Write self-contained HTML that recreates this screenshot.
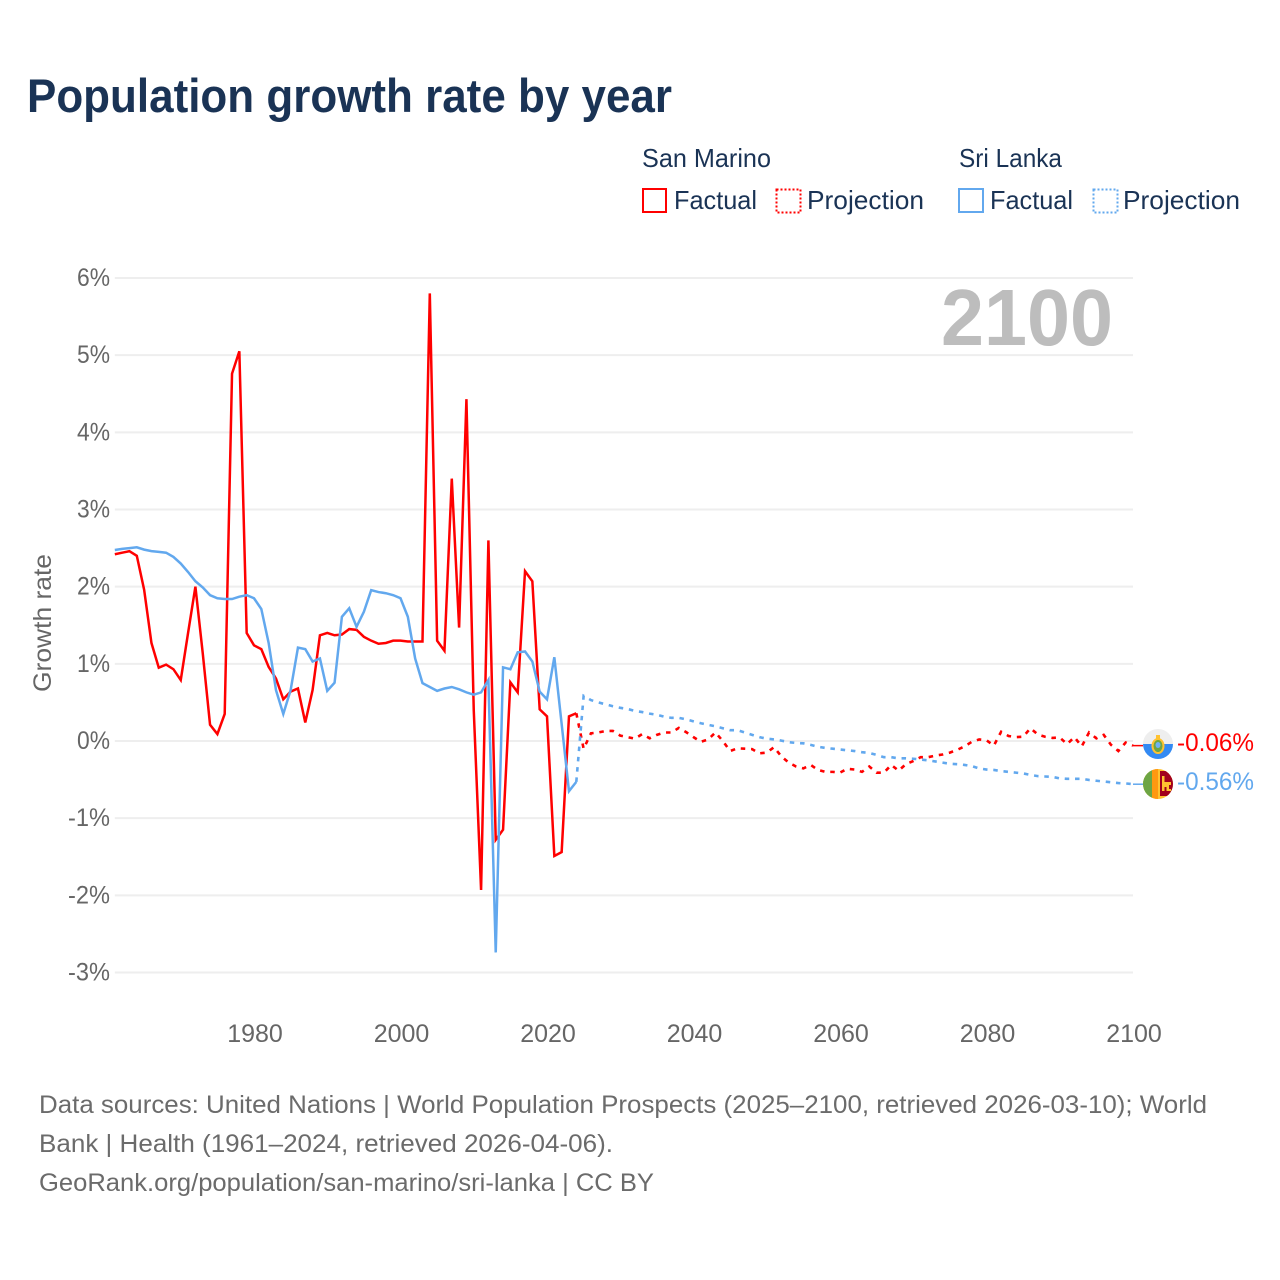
<!DOCTYPE html>
<html lang="en">
<head>
<meta charset="utf-8">
<title>Population growth rate by year</title>
<style>
html,body{margin:0;padding:0;background:#fff;}
svg{display:block;}
text{font-family:"Liberation Sans",sans-serif;}
</style>
</head>
<body>
<svg id="chart" xmlns="http://www.w3.org/2000/svg" width="1280" height="1280" viewBox="0 0 1280 1280">
  <defs>
    <clipPath id="flag-clip-sm"><circle cx="1158" cy="744" r="15"/></clipPath>
    <clipPath id="flag-clip-lk"><circle cx="1158" cy="784" r="15"/></clipPath>
  </defs>
  <rect x="0" y="0" width="1280" height="1280" fill="#fff"/>
  <text x="27" y="112" font-size="47" font-weight="700" fill="#1a3355" textLength="645" lengthAdjust="spacingAndGlyphs">Population growth rate by year</text>

  <g font-size="26" fill="#1a3355">
    <text x="642" y="167" textLength="129" lengthAdjust="spacingAndGlyphs">San Marino</text>
    <text x="959" y="167" textLength="103" lengthAdjust="spacingAndGlyphs">Sri Lanka</text>
    <rect x="643" y="189" width="23" height="23" fill="none" stroke="#ff0000" stroke-width="2"/>
    <text x="674" y="209" textLength="83" lengthAdjust="spacingAndGlyphs">Factual</text>
    <rect x="776.5" y="189.5" width="24" height="23" fill="none" stroke="#ff0000" stroke-width="2" stroke-dasharray="2 2"/>
    <text x="807" y="209" textLength="117" lengthAdjust="spacingAndGlyphs">Projection</text>
    <rect x="959" y="189" width="24" height="23" fill="none" stroke="#62a8ee" stroke-width="2"/>
    <text x="990" y="209" textLength="83" lengthAdjust="spacingAndGlyphs">Factual</text>
    <rect x="1093.5" y="189.5" width="24" height="23" fill="none" stroke="#62a8ee" stroke-width="2" stroke-dasharray="2 2"/>
    <text x="1123" y="209" textLength="117" lengthAdjust="spacingAndGlyphs">Projection</text>
  </g>

  <g id="grid"></g>
  <g id="yticks" font-size="25" fill="#666" text-anchor="end"></g>
  <g id="xticks" font-size="25" fill="#666" text-anchor="middle"></g>
  <text transform="translate(51,623) rotate(-90)" font-size="25" fill="#666" text-anchor="middle" textLength="138" lengthAdjust="spacingAndGlyphs">Growth rate</text>
  <text x="941" y="345" font-size="80" font-weight="700" fill="#bdbdbd" textLength="172" lengthAdjust="spacingAndGlyphs">2100</text>

  <g id="series"></g>

  <g clip-path="url(#flag-clip-sm)">
    <rect x="1143" y="729" width="30" height="15" fill="#eeeeee"/>
    <rect x="1143" y="744" width="30" height="15" fill="#338af3"/>
    <ellipse cx="1158" cy="746" rx="5.5" ry="7" fill="#6da544" stroke="#ffc230" stroke-width="2"/>
    <ellipse cx="1158" cy="745" rx="2.5" ry="3" fill="#6fb1f5"/>
    <rect x="1156" y="735" width="4" height="4" fill="#ffc230"/>
  </g>
  <g clip-path="url(#flag-clip-lk)">
    <rect x="1143" y="769" width="30" height="30" fill="#ffc230"/>
    <rect x="1143" y="769" width="9" height="30" fill="#6da544"/>
    <rect x="1152" y="769" width="6" height="30" fill="#ff9811"/>
    <rect x="1160" y="771" width="13" height="25" fill="#a2001d"/>
    <path d="M1162 776h2.5v6h6.5v3h-2v4h2v2h-4.5v-4h-2v4h-2.500z" fill="#ffc230"/>
  </g>
  <text x="1177" y="751" font-size="25" fill="#ff0000" textLength="77" lengthAdjust="spacingAndGlyphs">-0.06%</text>
  <text x="1177" y="790" font-size="25" fill="#62a8ee" textLength="77" lengthAdjust="spacingAndGlyphs">-0.56%</text>

  <g font-size="25" fill="#6b6b6b">
    <text x="39" y="1113" textLength="1168" lengthAdjust="spacingAndGlyphs">Data sources: United Nations | World Population Prospects (2025–2100, retrieved 2026-03-10); World</text>
    <text x="39" y="1152" textLength="574" lengthAdjust="spacingAndGlyphs">Bank | Health (1961–2024, retrieved 2026-04-06).</text>
    <text x="39" y="1191" textLength="615" lengthAdjust="spacingAndGlyphs">GeoRank.org/population/san-marino/sri-lanka | CC BY</text>
  </g>
</svg>
<script>
const firstFactualYear = 1961;
const firstProjectionYear = 2025;
const yTickValues = [6, 5, 4, 3, 2, 1, 0, -1, -2, -3];
const yTickLabels = ["6%", "5%", "4%", "3%", "2%", "1%", "0%", "-1%", "-2%", "-3%"];
const xTickValues = [1980, 2000, 2020, 2040, 2060, 2080, 2100];
const xTickLabels = ["1980", "2000", "2020", "2040", "2060", "2080", "2100"];

const sanMarinoFactual = [
  2.42, 2.44, 2.46, 2.40, 1.96, 1.27, 0.95, 0.99, 0.93, 0.79,
  1.40, 2.00, 1.14, 0.21, 0.09, 0.35, 4.76, 5.05, 1.40, 1.24,
  1.19, 0.96, 0.81, 0.54, 0.64, 0.68, 0.24, 0.66, 1.37, 1.40,
  1.37, 1.38, 1.45, 1.44, 1.35, 1.30, 1.26, 1.27, 1.30, 1.30,
  1.29, 1.29, 1.29, 5.80, 1.30, 1.17, 3.40, 1.47, 4.43, 0.40,
  -1.93, 2.60, -1.28, -1.15, 0.76, 0.63, 2.20, 2.07, 0.41, 0.32,
  -1.49, -1.44, 0.32, 0.36
];
const sriLankaFactual = [
  2.475, 2.49, 2.50, 2.51, 2.48, 2.46, 2.45, 2.44, 2.385, 2.30,
  2.19, 2.07, 1.99, 1.89, 1.85, 1.84, 1.84, 1.87, 1.89, 1.85,
  1.71, 1.27, 0.66, 0.35, 0.66, 1.21, 1.19, 1.03, 1.07, 0.65,
  0.755, 1.61, 1.72, 1.48, 1.675, 1.955, 1.93, 1.915, 1.89, 1.85,
  1.61, 1.07, 0.75, 0.70, 0.65, 0.68, 0.70, 0.67, 0.63, 0.60,
  0.63, 0.79, -2.74, 0.955, 0.93, 1.15, 1.16, 1.03, 0.64, 0.54,
  1.085, 0.22, -0.65, -0.53
];
const sanMarinoProjection = [
  -0.10, 0.10, 0.11, 0.13, 0.13, 0.07, 0.05, 0.03, 0.09, 0.035,
  0.08, 0.11, 0.11, 0.17, 0.115, 0.05, -0.01, 0.02, 0.11, 0.00,
  -0.13, -0.095, -0.10, -0.105, -0.16, -0.15, -0.08, -0.20, -0.28, -0.33,
  -0.355, -0.31, -0.375, -0.40, -0.40, -0.41, -0.36, -0.37, -0.40, -0.33,
  -0.41, -0.41, -0.31, -0.385, -0.30, -0.26, -0.21, -0.21, -0.19, -0.175,
  -0.15, -0.115, -0.07, -0.01, 0.02, 0.01, -0.06, 0.12, 0.065, 0.05,
  0.055, 0.165, 0.085, 0.055, 0.04, 0.045, -0.04, 0.05, -0.07, 0.11,
  0.035, 0.08, -0.05, -0.13, -0.02, -0.06
];
const sriLankaProjection = [
  0.585, 0.53, 0.50, 0.475, 0.45, 0.43, 0.415, 0.39, 0.375, 0.355,
  0.34, 0.315, 0.30, 0.30, 0.28, 0.255, 0.23, 0.21, 0.19, 0.165,
  0.14, 0.14, 0.11, 0.08, 0.05, 0.03, 0.02, 0.005, -0.015, -0.025,
  -0.03, -0.05, -0.075, -0.09, -0.10, -0.11, -0.12, -0.13, -0.145, -0.155,
  -0.18, -0.21, -0.21, -0.225, -0.225, -0.23, -0.24, -0.25, -0.265, -0.28,
  -0.295, -0.30, -0.31, -0.325, -0.355, -0.37, -0.375, -0.39, -0.40, -0.41,
  -0.42, -0.44, -0.455, -0.46, -0.465, -0.485, -0.49, -0.49, -0.49, -0.505,
  -0.515, -0.525, -0.535, -0.545, -0.55, -0.56
];

const SVG_NS = "http://www.w3.org/2000/svg";
const RED = "#ff0000";
const BLUE = "#62a8ee";

function xScale(year) { return 254 + (year - 1980) * 7.325; }
function yScale(pct) { return 741 - pct * 77.17; }

function make(tag, parentId) {
  const el = document.createElementNS(SVG_NS, tag);
  document.getElementById(parentId).appendChild(el);
  return el;
}

yTickValues.forEach(function (v, i) {
  const line = make("line", "grid");
  
  
  line.setAttribute("x1", xScale(1961));
  line.setAttribute("x2", xScale(2100));
  line.setAttribute("y1", yScale(v));
  line.setAttribute("y2", yScale(v));
  line.setAttribute("stroke", "#eeeeee");
  line.setAttribute("stroke-width", "2");

  const label = make("text", "yticks");
  
  
  label.setAttribute("x", 110);
  label.setAttribute("y", yScale(v) + 8);
  label.setAttribute("textLength", yTickLabels[i].length === 2 ? 33 : 42);
  label.setAttribute("lengthAdjust", "spacingAndGlyphs");
  label.textContent = yTickLabels[i];
});

xTickValues.forEach(function (v, i) {
  const label = make("text", "xticks");
  
  
  label.setAttribute("x", xScale(v) + 1);
  label.setAttribute("y", 1042);
  label.textContent = xTickLabels[i];
});

function pointsFrom(values, startYear) {
  return values.map(function (v, i) {
    return xScale(startYear + i).toFixed(2) + "," + yScale(v).toFixed(2);
  });
}

function drawFactual(values, color) {
  const line = make("polyline", "series");
  
  
  line.setAttribute("points", pointsFrom(values, firstFactualYear).join(" "));
  line.setAttribute("fill", "none");
  line.setAttribute("stroke", color);
  line.setAttribute("stroke-width", "2.5");
}

function drawProjection(factual, values, color) {
  const lastYear = firstFactualYear + factual.length - 1;
  const start = xScale(lastYear).toFixed(2) + "," + yScale(factual[factual.length - 1]).toFixed(2);
  const line = make("polyline", "series");
  
  
  line.setAttribute("points", start + " " + pointsFrom(values, firstProjectionYear).join(" "));
  line.setAttribute("fill", "none");
  line.setAttribute("stroke", color);
  line.setAttribute("stroke-width", "2.6");
  line.setAttribute("stroke-dasharray", "4.5 5.8");

  const last = values[values.length - 1];
  const leader = make("line", "series");
  
  
  leader.setAttribute("x1", xScale(2100));
  leader.setAttribute("x2", xScale(2100) + 10);
  leader.setAttribute("y1", yScale(last));
  leader.setAttribute("y2", yScale(last));
  leader.setAttribute("stroke", color);
  leader.setAttribute("stroke-width", "1.5");
}

drawFactual(sanMarinoFactual, RED);
drawFactual(sriLankaFactual, BLUE);
drawProjection(sanMarinoFactual, sanMarinoProjection, RED);
drawProjection(sriLankaFactual, sriLankaProjection, BLUE);
</script>
</body>
</html>
